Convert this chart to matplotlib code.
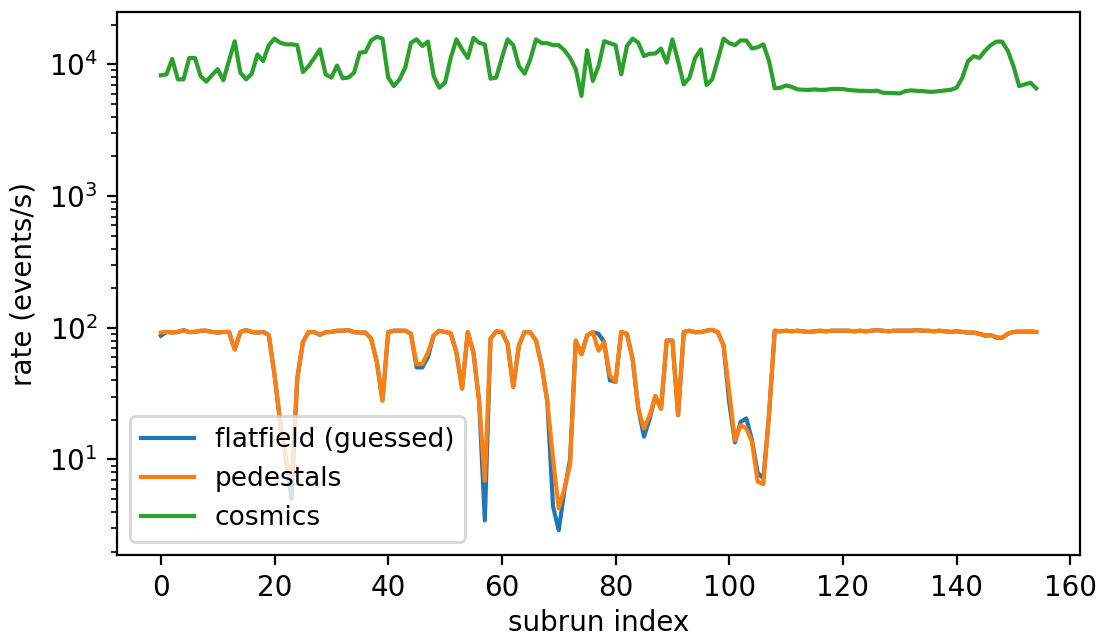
import numpy as np
import matplotlib
matplotlib.use("Agg")
import matplotlib.pyplot as plt

# subrun index 0..154
subrun = np.arange(155)

# tasas (eventos/s)
pedestals = [
    92, 93, 92, 93, 96, 92.7, 93, 95, 95, 93,
    92, 93, 93, 68.5, 93, 96, 93, 92, 93, 88,
    44, 19.5, 10.2, 7.1, 41, 78, 93, 92.7, 88.5, 92.7,
    93, 95, 95, 96, 92.7, 92, 92, 82.6, 55, 28,
    92.7, 95, 95, 95, 90, 53, 53, 65, 87.5, 95,
    93, 91, 65, 34.5, 92.7, 65, 27.4, 6.9, 82.6, 93.8,
    93, 75.7, 35.5, 73.5, 93, 92.5, 80, 51.8, 27.4, 10.2,
    4.25, 6.0, 9.1, 80, 63, 87.5, 92.7, 67, 77.8, 43.5,
    38.8, 93, 90, 58, 24.3, 17.2, 21.7, 30.3, 24.3, 80,
    80, 21.7, 93, 95, 92.7, 92.7, 95, 96.5, 92.7, 73.5,
    32.6, 14, 18.2, 17.2, 13.6, 6.8, 6.5, 22, 95, 94,
    95, 94, 95, 94, 93, 94, 95, 94, 95, 95,
    95, 95, 94, 95, 94, 95, 96, 95, 94, 95,
    95, 95, 95, 96, 95, 95, 94, 95, 94, 93,
    94, 93, 92, 92, 90, 88, 88, 85, 84, 90,
    93, 93.5, 93.5, 93.5, 93,
]

flatfield = list(pedestals)
# donde la curva azul se separa de la naranja
diferencias = {
    0: 87, 21: 19, 23: 5.0, 45: 50, 46: 50, 47: 60, 57: 3.45,
    69: 4.4, 70: 2.9, 71: 5.8, 72: 10, 77: 90, 79: 40,
    85: 14.9, 86: 20.4, 100: 27, 101: 13.5, 102: 19.3, 103: 20.5,
    104: 14, 105: 7.9, 106: 7.2, 145: 87, 147: 84,
}
for k, v in diferencias.items():
    flatfield[k] = v

cosmics = [
    8260, 8400, 11000, 7700, 7700, 11200, 11200, 8150, 7400, 8300,
    9200, 7570, 10700, 15000, 8650, 7700, 8500, 11900, 10600, 14000,
    15700, 14600, 14200, 14200, 14000, 8750, 9700, 11200, 13000, 8400,
    7930, 9800, 7840, 7950, 8650, 12300, 12400, 15200, 16200, 15700,
    7930, 6850, 7700, 9440, 14600, 15500, 13800, 14900, 8150, 6650,
    7260, 11200, 15500, 13000, 11200, 15900, 14600, 14200, 7790, 7930,
    11200, 15500, 14000, 9700, 8500, 10900, 15500, 14500, 14500, 14000,
    14000, 12800, 11200, 9200, 5760, 12800, 7480, 9700, 15000, 14500,
    14000, 8400, 13800, 15700, 14600, 11560, 12050, 12100, 13200, 10300,
    15500, 10600, 7050, 7930, 11200, 13000, 6970, 7700, 10900, 15700,
    14500, 14000, 15200, 15200, 13200, 13500, 14200, 10600, 6580, 6650,
    6920, 6750, 6460, 6420, 6400, 6460, 6400, 6420, 6500, 6520,
    6500, 6390, 6350, 6300, 6300, 6270, 6320, 6100, 6080, 6050,
    6020, 6270, 6350, 6300, 6270, 6200, 6200, 6270, 6350, 6420,
    6650, 7930, 10600, 11560, 11200, 12700, 14000, 14900, 14900, 12700,
    9700, 6850, 7050, 7260, 6580,
]

fig, ax = plt.subplots(figsize=(5.495, 3.195), dpi=200)
fig.subplots_adjust(left=0.1065, right=0.9827, top=0.981, bottom=0.1315)

ax.plot(subrun, flatfield, label="flatfield (guessed)")
ax.plot(subrun, pedestals, label="pedestals")
ax.plot(subrun, cosmics, label="cosmics")
ax.set_yscale("log")
ax.set_xlabel("subrun index", labelpad=2.5)
ax.set_ylabel("rate (events/s)")
ax.legend(loc="lower left", fontsize=9.5)

fig.savefig("out.png", dpi=200)
